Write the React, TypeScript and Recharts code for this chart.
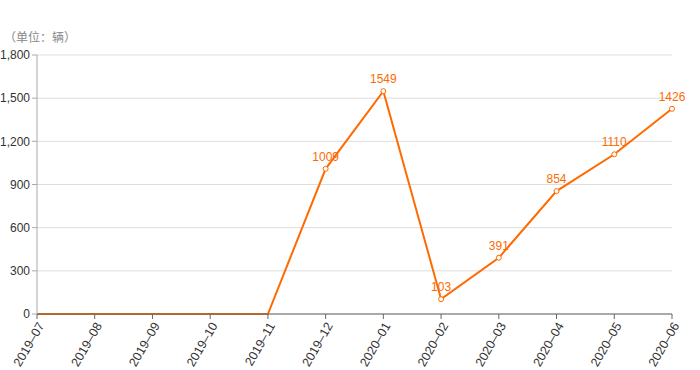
import React from "react";
import { LineChart, Line, XAxis, YAxis, CartesianGrid, LabelList } from "recharts";

const months = ["2019-07", "2019-08", "2019-09", "2019-10", "2019-11", "2019-12", "2020-01", "2020-02", "2020-03", "2020-04", "2020-05", "2020-06"];
const counts = [0, 0, 0, 0, 0, 1009, 1549, 103, 391, 854, 1110, 1426];
const yTicks = [0, 300, 600, 900, 1200, 1500, 1800];

const data = months.map((m, i) => ({ month: m, value: counts[i] }));
const ORANGE = "#ff6a00";
const FONT = "'Liberation Sans', 'Noto Sans CJK SC', sans-serif";

const Dot = (props: any) => {
  const { cx, cy, value } = props;
  if (!value) return null;
  return <circle cx={cx} cy={cy} r={2.5} fill="#fff" stroke={ORANGE} strokeWidth={1} />;
};

const Lbl = (props: any) => {
  const { x, y, value } = props;
  if (!value) return null;
  return (
    <text x={x} y={y - 8} textAnchor="middle" fill={ORANGE} fontSize={12} fontFamily={FONT}>
      {value}
    </text>
  );
};

export default function App() {
  return (
    <div style={{ position: "absolute", left: 0, top: 0, width: 700, height: 370, background: "#fff", fontFamily: FONT }}>
      <div style={{ position: "absolute", left: 4, top: 28, fontSize: 12, color: "#888" }}>（单位：辆）</div>
      <LineChart width={700} height={370} data={data} margin={{ top: 55, right: 28, bottom: 0, left: 0 }}>
        <CartesianGrid vertical={false} stroke="#ddd" />
        <XAxis
          dataKey="month"
          interval={0}
          angle={-60}
          textAnchor="end"
          height={56}
          tick={{ fontSize: 12.5, fill: "#333", fontFamily: FONT }}
          tickFormatter={(v: string) => v.replace("-", "–")}
          tickSize={5}
          stroke="#666"
          padding={{ left: 0, right: 0 }}
        />
        <YAxis
          ticks={yTicks}
          domain={[0, 1800]}
          width={37}
          tick={{ fontSize: 12, fill: "#333", fontFamily: FONT }}
          tickFormatter={(v: number) => v.toLocaleString("en-US")}
          tickSize={5}
          stroke="#aaa"
        />
        <Line type="linear" dataKey="value" stroke={ORANGE} strokeWidth={2} dot={<Dot />} activeDot={false} isAnimationActive={false}>
          <LabelList dataKey="value" content={<Lbl />} />
        </Line>
      </LineChart>
    </div>
  );
}
